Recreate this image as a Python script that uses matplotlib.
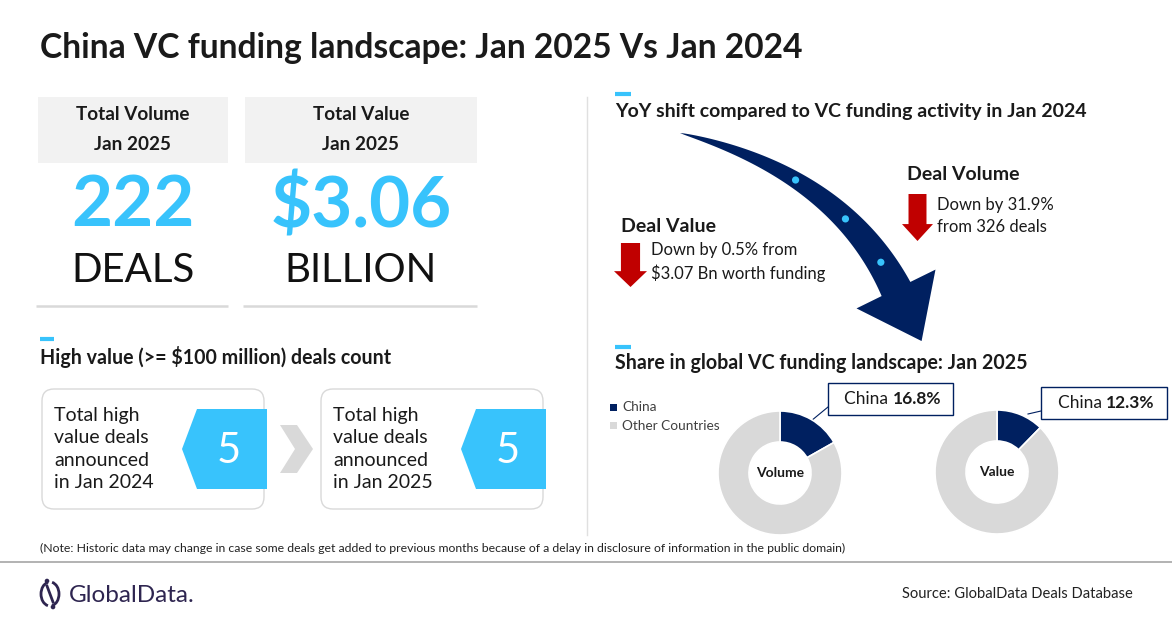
import numpy as np
import matplotlib
matplotlib.use("Agg")
import matplotlib.pyplot as plt
from matplotlib.patches import Polygon, Rectangle, FancyBboxPatch, Arc, Circle

# ---------------- data ----------------
title = "China VC funding landscape: Jan 2025 Vs Jan 2024"
total_volume_deals = 222
total_value_bn = 3.06
high_value_years = ["Jan 2024", "Jan 2025"]
high_value_counts = [5, 5]
volume_change_pct = -31.9
prev_volume_deals = 326
value_change_pct = -0.5
prev_value_bn = 3.07
share_labels = ["China", "Other Countries"]
volume_share = [16.8, 83.2]
value_share = [12.3, 87.7]

# ---------------- style ----------------
NAVY = "#002060"
CYAN = "#38C3FC"
GREY = "#D9D9D9"
LGREY = "#F2F2F2"
RED = "#C00000"
DARK = "#1A1A1A"
FONT = ["Lato", "DejaVu Sans"]
NARROW = ["Liberation Sans Narrow", "Lato", "DejaVu Sans"]
plt.rcParams["font.family"] = FONT

W, H = 1172, 628
fig = plt.figure(figsize=(W / 100, H / 100), dpi=100)
fig.patch.set_facecolor("white")
ax = fig.add_axes([0, 0, 1, 1])
ax.set_xlim(0, W)
ax.set_ylim(H, 0)
ax.axis("off")


def txt(x, y, s, size, weight="normal", color=DARK, ha="left", va="center", family=FONT, **kw):
    return ax.text(x, y, s, fontsize=size, fontweight=weight, color=color, ha=ha, va=va,
                   family=family, **kw)


# title
txt(40, 48, title, 24.2, "bold")

# ---------------- KPI boxes ----------------
kpis = [
    (38, 228, "Total Volume", f"{total_volume_deals}", "DEALS"),
    (245, 477, "Total Value", f"${total_value_bn:.2f}", "BILLION"),
]
for x0, x1, head, big, unit in kpis:
    ax.add_patch(Rectangle((x0, 97), x1 - x0, 66, facecolor=LGREY, edgecolor="none"))
    cx = (x0 + x1) / 2
    txt(cx, 114, head, 13.6, "bold", ha="center")
    txt(cx, 145, "Jan 2025", 13.6, "bold", ha="center")
    txt(cx, 206, big, 51, "bold", color=CYAN, ha="center")
    txt(cx, 271, unit, 29, color="#111111", ha="center")
    ax.plot([x0 - 2, x1], [306, 306], color=GREY, lw=1.8, solid_capstyle="butt")

# vertical divider
ax.plot([587, 587], [97, 535], color="#E0E0E0", lw=1)

# ---------------- high value deals ----------------
ax.plot([40, 54], [339, 339], color=CYAN, lw=3, solid_capstyle="butt")
txt(40, 357, "High value (>= $100 million) deals count", 14.1, "bold")

box_x = [42, 321]
for bx, yr, cnt in zip(box_x, high_value_years, high_value_counts):
    ax.add_patch(FancyBboxPatch((bx, 389), 222, 120,
                                boxstyle="round,pad=0,rounding_size=12",
                                facecolor="white", edgecolor="#D9D9D9", lw=1))
    txt(bx + 12, 449, f"Total high\nvalue deals\nannounced\nin {yr}", 14,
        linespacing=1.38)
    hx0, hx1 = bx + 140, bx + 225
    ax.add_patch(Polygon([(hx0 + 15, 409), (hx1, 409), (hx1, 489), (hx0 + 15, 489), (hx0, 449)],
                         closed=True, facecolor=CYAN, edgecolor="none"))
    txt((hx0 + hx1) / 2 + 4, 451, str(cnt), 30, color="white", ha="center")

# chevron between
ax.add_patch(Polygon([(280, 425), (297, 425), (313, 449), (297, 473), (280, 473), (295, 449)],
                     closed=True, facecolor="#D9D9D9", edgecolor="none"))

# ---------------- YoY shift ----------------
ax.plot([615, 631], [94, 94], color=CYAN, lw=3, solid_capstyle="butt")
txt(615, 111, "YoY shift compared to VC funding activity in Jan 2024", 14, "bold")

# big curved arrow
P0 = np.array([680.0, 133.0])
P1 = np.array([839.0, 173.0])
P2 = np.array([896.0, 289.0])
u = np.linspace(0, 1, 80)
pts = ((1 - u) ** 2)[:, None] * P0 + (2 * (1 - u) * u)[:, None] * P1 + (u ** 2)[:, None] * P2
der = (2 * (1 - u))[:, None] * (P1 - P0) + (2 * u)[:, None] * (P2 - P1)
tan = der / np.linalg.norm(der, axis=1)[:, None]
nrm = np.column_stack([-tan[:, 1], tan[:, 0]])
hw = 16 * u ** 0.75
upper = pts + nrm * hw[:, None]
lower = pts - nrm * hw[:, None]
end_t, end_n = tan[-1], nrm[-1]
barb1 = P2 + end_n * 44
barb2 = P2 - end_n * 44
tip = P2 + end_t * 58
poly = np.vstack([upper, barb1[None], tip[None], barb2[None], lower[::-1]])
ax.add_patch(Polygon(poly, closed=True, facecolor=NAVY, edgecolor="none"))
for uu in [0.42, 0.66, 0.88]:
    p = (1 - uu) ** 2 * P0 + 2 * (1 - uu) * uu * P1 + uu ** 2 * P2
    ax.add_patch(Circle(p, 3.6, facecolor=CYAN, edgecolor="none"))


def red_down(x0, y0, x1, y1):
    cx = (x0 + x1) / 2
    sw = (x1 - x0) * 0.29
    hy = y1 - (y1 - y0) * 0.36
    ax.add_patch(Polygon([(cx - sw, y0), (cx + sw, y0), (cx + sw, hy), (x1, hy), (cx, y1),
                          (x0, hy), (cx - sw, hy)], closed=True, facecolor=RED, edgecolor="none"))


txt(907, 175, "Deal Volume", 14, "bold")
red_down(902, 194, 933, 241)
txt(937, 216, f"Down by {abs(volume_change_pct):.1f}%\nfrom {prev_volume_deals} deals", 12,
    linespacing=1.4)

txt(621, 226, "Deal Value", 14, "bold")
red_down(614, 243, 647, 287)
txt(651, 262, f"Down by {abs(value_change_pct):.1f}% from\n${prev_value_bn:.2f} Bn worth funding", 12,
    linespacing=1.4)

# ---------------- share donuts ----------------
ax.plot([615, 631], [347, 347], color=CYAN, lw=3, solid_capstyle="butt")
txt(615, 363, "Share in global VC funding landscape: Jan 2025", 14.1, "bold")

colors = [NAVY, GREY]
for i, (lab, c) in enumerate(zip(share_labels, colors)):
    y = 407 + i * 18.5
    ax.add_patch(Rectangle((610, y - 3.5), 7, 7, facecolor=c, edgecolor="none"))
    txt(622, y, lab, 9.8, color="#404040")


def donut(cx, cy, r, shares, label):
    a = fig.add_axes([(cx - r) / W, 1 - (cy + r) / H, 2 * r / W, 2 * r / H])
    a.pie(shares, colors=colors, startangle=90, counterclock=False, radius=1,
          wedgeprops=dict(width=0.5, edgecolor="white", linewidth=1.2))
    a.set_xlim(-1, 1)
    a.set_ylim(-1, 1)
    a.axis("off")
    a.text(0, 0, label, ha="center", va="center", fontsize=10, fontweight="bold", color=DARK,
           family=FONT)


donut(780, 473, 62, volume_share, "Volume")
donut(997, 472, 62, value_share, "Value")


def callout(x0, y0, x1, y1, lx, ly, share):
    ax.add_patch(Rectangle((x0, y0), x1 - x0, y1 - y0, facecolor="white", edgecolor=NAVY, lw=1,
                           zorder=5))
    ax.plot([lx, x0], [ly, (y0 + y1) / 2 + 8], color=NAVY, lw=0.8, zorder=4)
    t = ax.text((x0 + x1) / 2 - 22, (y0 + y1) / 2, "China ", fontsize=12.5, color=DARK,
                ha="center", va="center", family=FONT, zorder=6)
    ax.annotate(f"{share:.1f}%", xycoords=t, xy=(1, 0.5), va="center", ha="left",
                fontsize=12.5, fontweight="bold", color=DARK, family=FONT, zorder=6)


callout(828, 383, 953, 415, 811, 421, volume_share[0])
callout(1041, 387, 1167, 419, 1028, 414, value_share[0])

# ---------------- footer ----------------
txt(40, 548, "(Note: Historic data may change in case some deals get added to previous months because of a "
    "delay in disclosure of information in the public domain)", 8.8, color="#222222", family=NARROW)
ax.plot([0, W], [562, 562], color="#A6A6A6", lw=1.2)

LOGO = "#2E2550"
ax.add_patch(Arc((50, 594), 18, 24, theta1=100, theta2=260, color=LOGO, lw=2))
ax.add_patch(Arc((50, 594), 18, 24, theta1=280, theta2=80, color=LOGO, lw=2))
ax.plot([47, 53], [586, 602], color=LOGO, lw=2)
ax.add_patch(Circle((47, 581), 1.6, color=LOGO))
ax.add_patch(Circle((53, 607), 1.6, color=LOGO))
txt(69, 595, "GlobalData.", 17.5, color=LOGO)
txt(1133, 594, "Source: GlobalData Deals Database", 10.6, color="#222222", ha="right")

fig.savefig("out.png", dpi=100, facecolor="white")
